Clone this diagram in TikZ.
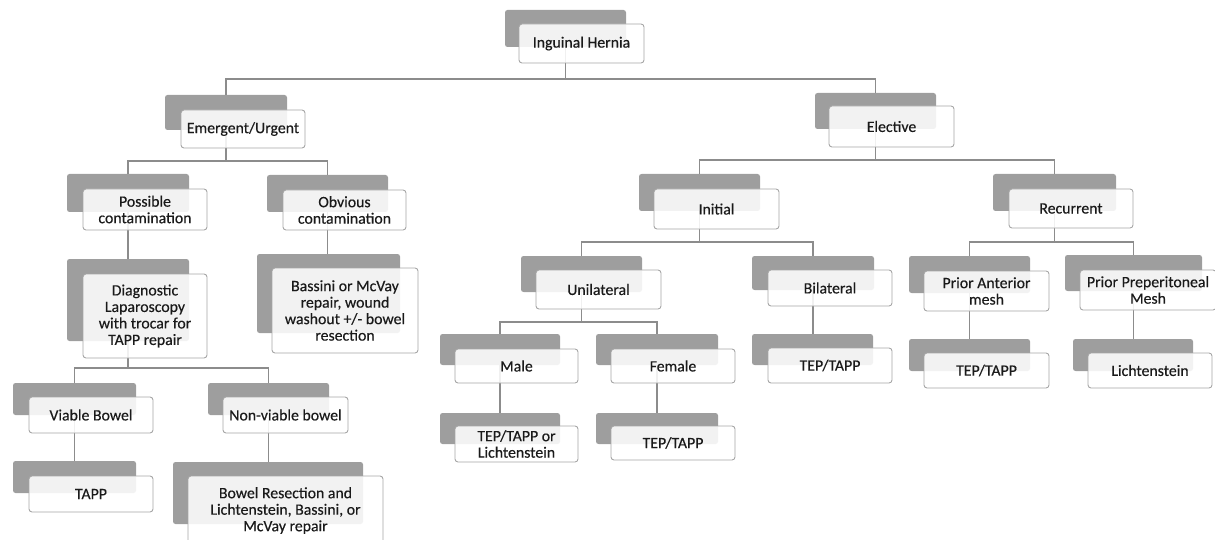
\documentclass[tikz,border=0pt]{standalone}
\usepackage{fontspec}
\setmainfont{Carlito}
\newfontfamily\boxfont{Carlito}[FakeBold=0.35]
\usetikzlibrary{fit}
\definecolor{shade}{HTML}{9E9E9E}
\definecolor{edgec}{HTML}{A6A6A6}
\definecolor{wirec}{HTML}{8C8C8C}
\definecolor{ink}{HTML}{1A1A1A}
\tikzset{
  backbox/.style={fill=shade, draw=none, rounded corners=2.5pt, inner sep=0pt, outer sep=0pt},
  frontbox/.style={fill=white, fill opacity=0.87, draw=edgec, line width=0.9pt,
    rounded corners=3pt, inner sep=0pt, outer sep=0pt},
  boxtext/.style={align=center, text=ink, inner sep=0pt, font=\boxfont\fontsize{15.8}{16.5}\selectfont},
  wire/.style={draw=wirec, line width=1.1pt},
}
\newcommand{\gbox}[5]{\node[backbox, fit={(#2,#3) (#4,#5)}] (#1) {};}
\newcommand{\wbox}[6]{\node[frontbox, fit={(#2,#3) (#4,#5)}] (#1w) {};
  \node[boxtext] (#1t) at (#1w.center) {#6};}
\begin{document}
\begin{tikzpicture}[x=1pt,y=-1pt]
\useasboundingbox (0,0) rectangle (1215,540);
\clip (0,0) rectangle (1215,540);
% back (grey) boxes
\gbox{root}{505}{10}{626}{47}
\gbox{emer}{165}{95}{287}{130}
\gbox{elec}{815}{93}{936}{129}
\gbox{poss}{67}{174}{189}{212}
\gbox{obv}{267}{175}{388}{212}
\gbox{diag}{67}{259}{189}{341}
\gbox{bass}{257}{254}{400}{333}
\gbox{viab}{13}{383}{136}{415}
\gbox{nonv}{208}{383}{329}{415}
\gbox{tapp}{13}{461}{136}{493}
\gbox{bres}{173}{462}{363}{524}
\gbox{init}{639}{174}{760}{211}
\gbox{recu}{993}{174}{1116}{211}
\gbox{unil}{521}{256}{642}{292}
\gbox{bila}{752}{256}{874}{290}
\gbox{pant}{909}{256}{1030}{293}
\gbox{ppre}{1065}{255}{1202}{291}
\gbox{male}{440}{334}{560}{365}
\gbox{fema}{596}{334}{718}{365}
\gbox{mtep}{440}{413}{560}{444}
\gbox{ftep}{596}{413}{718}{444}
\gbox{btep}{752}{334}{873}{365}
\gbox{atep}{909}{339}{1030}{371}
\gbox{lich}{1073}{339}{1193}{371}
% bus levels
\coordinate (busroot) at (0,79);
\coordinate (busemer) at (0,161);
\coordinate (busdiag) at (0,368);
\coordinate (buselec) at (0,160);
\coordinate (businit) at (0,242);
\coordinate (busrecu) at (0,242);
\coordinate (busunil) at (0,322);
% connectors
\draw[wire] (root.south) -- (root.south |- busroot) -| (emer.north);
\draw[wire] (root.south |- busroot) -| (elec.north);
\draw[wire] (emer.south) -- (emer.south |- busemer) -| (poss.north);
\draw[wire] (emer.south |- busemer) -| (obv.north);
\draw[wire] (diag.south) -- (diag.south |- busdiag) -| (viab.north);
\draw[wire] (diag.south |- busdiag) -| (nonv.north);
\draw[wire] (elec.south) -- (elec.south |- buselec) -| (init.north);
\draw[wire] (elec.south |- buselec) -| (recu.north);
\draw[wire] (init.south) -- (init.south |- businit) -| (unil.north);
\draw[wire] (init.south |- businit) -| (bila.north);
\draw[wire] (recu.south) -- (recu.south |- busrecu) -| (pant.north);
\draw[wire] (recu.south |- busrecu) -| (ppre.north);
\draw[wire] (unil.south) -- (unil.south |- busunil) -| (male.north);
\draw[wire] (unil.south |- busunil) -| (fema.north);
\draw[wire] (poss.south) -- (poss.south |- diag.north);
\draw[wire] (obv.south) -- (obv.south |- bass.north);
\draw[wire] (viab.south) -- (viab.south |- tapp.north);
\draw[wire] (nonv.south) -- (nonv.south |- bres.north);
\draw[wire] (male.south) -- (male.south |- mtep.north);
\draw[wire] (fema.south) -- (fema.south |- ftep.north);
\draw[wire] (bila.south) -- (bila.south |- btep.north);
\draw[wire] (pant.south) -- (pant.south |- atep.north);
\draw[wire] (ppre.south) -- (ppre.south |- lich.north);
% front (white) boxes
\wbox{root}{519}{24}{644}{63}{Inguinal Hernia}
\wbox{emer}{181}{110}{305}{148}{Emergent/Urgent}
\wbox{elec}{829}{106}{954}{147}{Elective}
\wbox{poss}{83}{189}{207}{230}{Possible\\contamination}
\wbox{obv}{283}{190}{406}{230}{Obvious\\contamination}
\wbox{diag}{83}{274}{207}{358}{Diagnostic\\Laparoscopy\\with trocar for\\TAPP repair}
\wbox{bass}{272}{268}{418}{353}{Bassini or McVay\\repair, wound\\washout +/- bowel\\resection}
\wbox{viab}{29}{397}{153}{433}{Viable Bowel}
\wbox{nonv}{223}{397}{348}{433}{Non-viable bowel}
\wbox{tapp}{29}{476}{153}{512}{TAPP}
\wbox{bres}{188}{476}{383}{545}{Bowel Resection and\\Lichtenstein, Bassini, or\\McVay repair}
\wbox{init}{654}{189}{779}{229}{Initial}
\wbox{recu}{1009}{189}{1133}{228}{Recurrent}
\wbox{unil}{536}{270}{661}{309}{Unilateral}
\wbox{bila}{768}{270}{892}{306}{Bilateral}
\wbox{pant}{924}{271}{1049}{311}{Prior Anterior\\mesh}
\wbox{ppre}{1080}{270}{1216}{310}{Prior Preperitoneal\\Mesh}
\wbox{male}{455}{349}{578}{383}{Male}
\wbox{fema}{611}{349}{735}{383}{Female}
\wbox{mtep}{455}{426}{578}{462}{TEP/TAPP or\\Lichtenstein}
\wbox{ftep}{611}{426}{735}{460}{TEP/TAPP}
\wbox{btep}{768}{348}{892}{383}{TEP/TAPP}
\wbox{atep}{924}{353}{1049}{388}{TEP/TAPP}
\wbox{lich}{1088}{353}{1212}{388}{Lichtenstein}
\end{tikzpicture}
\end{document}
